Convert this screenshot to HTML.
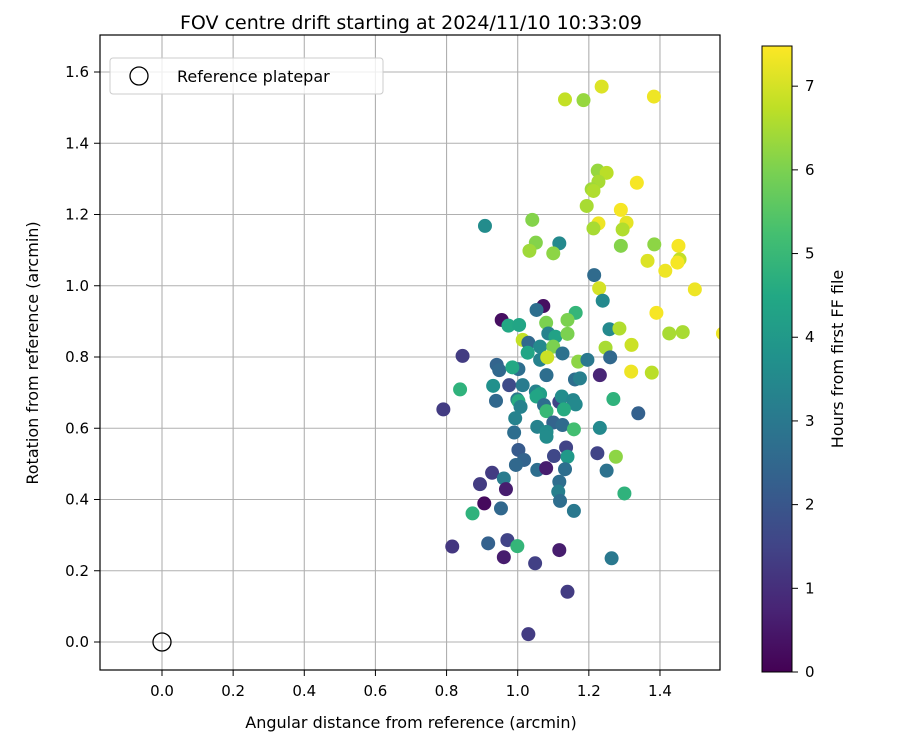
<!DOCTYPE html>
<html><head><meta charset="utf-8"><style>
body{margin:0;background:#fff;}
svg{font-family:"DejaVu Sans","Liberation Sans",sans-serif;display:block}
</style></head><body>
<svg id="chart" width="900" height="750" viewBox="0 0 900 750" xmlns="http://www.w3.org/2000/svg">
<defs>
<clipPath id="plotclip"><rect x="100" y="35" width="620" height="635"/></clipPath>
<linearGradient id="vir" x1="0" y1="1" x2="0" y2="0">
<stop offset="0" stop-color="#440154"/><stop offset="0.1" stop-color="#482475"/><stop offset="0.2" stop-color="#414487"/><stop offset="0.3" stop-color="#355f8d"/><stop offset="0.4" stop-color="#2a788e"/><stop offset="0.5" stop-color="#21918c"/><stop offset="0.6" stop-color="#22a884"/><stop offset="0.7" stop-color="#44bf70"/><stop offset="0.8" stop-color="#7ad151"/><stop offset="0.9" stop-color="#bddf26"/><stop offset="1" stop-color="#fde725"/>
</linearGradient>
</defs>
<g id="grid"></g>
<g id="points" clip-path="url(#plotclip)"></g>
<rect x="100" y="35" width="620" height="635" fill="none" stroke="#000" stroke-width="1.2"/>
<g id="xticks"></g>
<g id="yticks"></g>
<text x="411" y="35" dy="-6" text-anchor="middle" font-size="19">FOV centre drift starting at 2024/11/10 10:33:09</text>
<text x="411" y="728" text-anchor="middle" font-size="16">Angular distance from reference (arcmin)</text>
<text transform="translate(38,353) rotate(-90)" text-anchor="middle" font-size="16">Rotation from reference (arcmin)</text>
<g>
<rect x="110" y="58" width="273" height="36" rx="3" fill="#fff" fill-opacity="0.8" stroke="#ccc"/>
<circle cx="139" cy="76" r="9" fill="none" stroke="#000" stroke-width="1.3"/>
<text x="177" y="82" font-size="16">Reference platepar</text>
</g>
<rect x="762" y="46" width="30" height="626" fill="url(#vir)" stroke="#000" stroke-width="1"/>
<g id="cbticks"></g>
<text transform="translate(843,359) rotate(-90)" text-anchor="middle" font-size="16">Hours from first FF file</text>
</svg>
<script>
const xVals=[1.072,1.053,0.955,1.163,0.974,1.004,1.08,1.14,1.086,1.106,1.14,1.014,1.03,1.063,1.10,1.028,1.126,1.063,1.083,1.17,1.196,0.845,0.941,0.948,1.002,1.081,1.161,1.175,0.985,0.976,1.014,0.931,0.838,1.051,1.063,1.053,1.231,1.258,1.286,1.247,1.26,1.32,1.319,1.377,1.39,0.939,0.999,1.002,1.074,1.117,1.124,1.156,1.163,1.13,1.081,1.008,1.269,1.339,0.791,0.993,1.10,1.126,1.055,1.081,1.081,1.158,1.231,0.99,1.002,1.018,0.995,1.136,1.102,1.14,1.224,1.276,1.25,1.055,1.08,1.133,0.928,0.961,0.894,0.967,1.117,1.114,1.30,1.119,1.158,0.906,0.953,0.873,0.816,0.917,0.971,0.999,0.961,1.049,1.117,1.264,1.14,1.03,1.236,1.133,1.185,1.383,1.225,1.25,1.227,1.208,1.213,1.335,1.194,1.29,1.227,1.213,1.306,1.295,1.041,0.908,1.117,1.051,1.033,1.10,1.29,1.384,1.452,1.455,1.365,1.449,1.415,1.215,1.229,1.498,1.239,1.426,1.464,1.577];
const yVals=[0.943,0.932,0.904,0.924,0.888,0.890,0.896,0.904,0.866,0.857,0.865,0.848,0.84,0.829,0.829,0.812,0.81,0.792,0.799,0.787,0.792,0.803,0.778,0.763,0.766,0.749,0.737,0.740,0.771,0.721,0.721,0.719,0.709,0.703,0.696,0.689,0.749,0.878,0.880,0.826,0.799,0.834,0.759,0.756,0.924,0.677,0.681,0.676,0.665,0.674,0.689,0.679,0.667,0.653,0.648,0.66,0.682,0.642,0.653,0.628,0.616,0.609,0.604,0.59,0.576,0.597,0.601,0.588,0.539,0.511,0.497,0.546,0.522,0.52,0.53,0.52,0.481,0.483,0.488,0.485,0.475,0.459,0.443,0.429,0.45,0.422,0.417,0.396,0.368,0.389,0.375,0.361,0.268,0.277,0.286,0.269,0.238,0.221,0.258,0.235,0.141,0.022,1.559,1.523,1.521,1.531,1.323,1.317,1.292,1.271,1.266,1.289,1.224,1.213,1.175,1.161,1.177,1.158,1.185,1.168,1.119,1.121,1.098,1.091,1.112,1.116,1.112,1.074,1.07,1.065,1.042,1.03,0.993,0.99,0.958,0.866,0.87,0.866];
const hourVals=[0.3,2.7,0.3,4.9,4.5,4.4,6.0,6.0,3.3,4.3,6.0,6.8,2.5,3.5,6.0,4.4,2.8,3.3,6.9,6.2,3.0,1.3,2.4,2.5,2.7,2.7,2.7,3.2,4.5,1.7,3.1,3.7,4.8,3.3,4.2,4.4,0.8,3.5,6.6,6.5,2.5,6.9,7.3,6.7,7.4,2.5,3.0,4.6,2.7,1.5,3.6,3.4,3.5,4.6,5.0,3.3,4.8,2.3,1.3,3.3,2.4,2.6,3.3,3.6,3.6,5.2,3.5,2.7,2.1,2.4,2.5,1.5,1.6,4.0,1.5,6.2,2.8,2.7,0.6,2.7,1.3,3.1,1.3,0.6,2.7,3.2,4.8,2.7,3.0,0.2,2.5,4.8,1.2,2.3,1.5,4.9,0.6,1.4,0.6,3.0,1.3,1.3,7.1,6.8,6.3,7.3,6.3,6.7,6.5,6.4,6.6,7.4,6.5,7.4,7.3,6.5,7.2,6.6,6.1,3.6,3.5,6.1,6.4,6.2,6.1,6.2,7.4,6.8,7.1,7.4,7.3,2.6,7.0,7.3,3.5,6.5,6.5,7.3];
const xTicks=[0.0,0.2,0.4,0.6,0.8,1.0,1.2,1.4];
const yTicks=[0.0,0.2,0.4,0.6,0.8,1.0,1.2,1.4,1.6];
const cbTicks=[0,1,2,3,4,5,6,7];

const NS='http://www.w3.org/2000/svg';
const X=v=>162+v*355.7, Y=v=>642-v*356.25;
const HMAX=7.48, CB=v=>672-v/HMAX*626;
const stops=["#440154","#482475","#414487","#355f8d","#2a788e","#21918c","#22a884","#44bf70","#7ad151","#bddf26","#fde725"];
function hex(h){return [1,3,5].map(i=>parseInt(h.substr(i,2),16));}
function vir(t){t=Math.max(0,Math.min(1,t))*10;const i=Math.min(9,Math.floor(t)),f=t-i;const a=hex(stops[i]),b=hex(stops[i+1]);return 'rgb('+a.map((c,k)=>Math.round(c+(b[k]-c)*f)).join(',')+')';}
function mk(tag,attrs,parent){const e=document.createElementNS(NS,tag);for(const k in attrs)e.setAttribute(k,attrs[k]);parent.appendChild(e);return e;}
const grid=document.getElementById('grid'),xt=document.getElementById('xticks'),yt=document.getElementById('yticks'),pts=document.getElementById('points'),cbt=document.getElementById('cbticks');
xTicks.forEach(v=>{
 const l=mk('line',{x1:X(v),x2:X(v),y1:35,y2:670,stroke:'#b0b0b0','stroke-width':1.1},grid);
 
 
 const t=mk('line',{x1:X(v),x2:X(v),y1:670,y2:676,stroke:'#000'},xt);
 
 
 const s=mk('text',{x:X(v),y:696,'text-anchor':'middle','font-size':15},xt);s.textContent=v.toFixed(1);
 
 
});
yTicks.forEach(v=>{
 const l=mk('line',{x1:100,x2:720,y1:Y(v),y2:Y(v),stroke:'#b0b0b0','stroke-width':1.1},grid);
 
 
 const t=mk('line',{x1:94,x2:100,y1:Y(v),y2:Y(v),stroke:'#000'},yt);
 
 
 const s=mk('text',{x:89,y:Y(v)+5,'text-anchor':'end','font-size':15},yt);s.textContent=v.toFixed(1);
 
 
});
xVals.forEach((v,i)=>{
 const c=mk('circle',{cx:X(v),cy:Y(yVals[i]),r:7,fill:vir(hourVals[i]/HMAX)},pts);
 
 
});
const ref=mk('circle',{cx:X(0),cy:Y(0),r:9,fill:'none',stroke:'#000','stroke-width':1.3},pts);


cbTicks.forEach(v=>{
 const t=mk('line',{x1:792,x2:798,y1:CB(v),y2:CB(v),stroke:'#000'},cbt);
 
 
 const s=mk('text',{x:805,y:CB(v)+5,'font-size':15},cbt);s.textContent=v;
 
 
});
</script>
</body></html>
